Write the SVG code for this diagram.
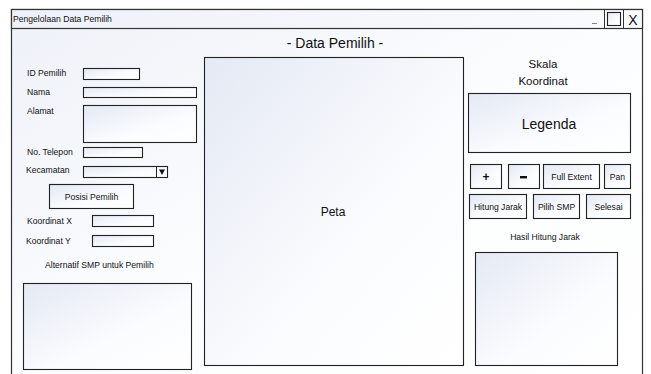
<svg xmlns="http://www.w3.org/2000/svg" width="651" height="374" viewBox="0 0 651 374">
  <defs>
    <linearGradient id="boxFill" x1="0" y1="0" x2="1" y2="1">
      <stop offset="0" stop-color="#e4e9f4"/>
      <stop offset="0.6" stop-color="#fbfcfe"/>
      <stop offset="1" stop-color="#ffffff"/>
    </linearGradient>
    <linearGradient id="winFill" x1="0" y1="0" x2="1" y2="1">
      <stop offset="0" stop-color="#eef1f8"/>
      <stop offset="0.5" stop-color="#fcfdfe"/>
      <stop offset="1" stop-color="#ffffff"/>
    </linearGradient>
    <linearGradient id="barFill" x1="0" y1="0" x2="1" y2="0">
      <stop offset="0" stop-color="#eef1f8"/>
      <stop offset="1" stop-color="#fafbfd"/>
    </linearGradient>
  </defs>
  <style>
    .frame { fill: url(#winFill); stroke: #333; stroke-width: 1.2; }
    .bar { fill: url(#barFill); stroke: #333; stroke-width: 1.2; }
    .box { fill: url(#boxFill); stroke: #222; stroke-width: 1.1; }
    .btn { fill: url(#boxFill); stroke: #222; stroke-width: 1.1; }
    .lbl { font-family: "Liberation Sans", Arial, sans-serif; font-size: 8.6px; fill: #111; }
    .ctr { text-anchor: middle; }
    .big { font-family: "Liberation Sans", Arial, sans-serif; fill: #111; text-anchor: middle; }
  </style>

  <!-- window frame -->
  <g id="window">
    <rect class="frame" x="11.5" y="9.5" width="631" height="380"/>
    <rect class="bar" x="11.5" y="9.5" width="631" height="19"/>
    <text class="lbl" x="13" y="21.5" font-size="8.6">Pengelolaan Data Pemilih</text>
    <line x1="592" y1="23.5" x2="597" y2="23.5" stroke="#666" stroke-width="0.8"/>
    <line x1="604.5" y1="9.5" x2="604.5" y2="28.5" stroke="#333" stroke-width="1"/>
    <rect x="607.5" y="12.5" width="13" height="13" fill="url(#boxFill)" stroke="#222" stroke-width="1.1"/>
    <line x1="623.5" y1="9.5" x2="623.5" y2="28.5" stroke="#333" stroke-width="1"/>
    <text class="big" x="633" y="24.5" font-size="14">X</text>
  </g>

  <g id="heading">
    <text class="big" x="335" y="48" font-size="14">- Data Pemilih -</text>
  </g>

  <!-- form fields -->
  <g id="id-pemilih">
    <text class="lbl" x="27" y="76">ID Pemilih</text>
    <rect class="box" x="83.5" y="68.5" width="56" height="11"/>
  </g>
  <g id="nama">
    <text class="lbl" x="27" y="95">Nama</text>
    <rect class="box" x="83.5" y="87.5" width="113" height="10"/>
  </g>
  <g id="alamat">
    <text class="lbl" x="27" y="114">Alamat</text>
    <rect class="box" x="83.5" y="105.5" width="113" height="37"/>
  </g>
  <g id="telepon">
    <text class="lbl" x="27" y="155">No. Telepon</text>
    <rect class="box" x="83.5" y="147.5" width="59" height="10"/>
  </g>
  <g id="kecamatan">
    <text class="lbl" x="26" y="173">Kecamatan</text>
    <rect class="box" x="83.5" y="166.5" width="84" height="11"/>
    <line x1="156.5" y1="166.5" x2="156.5" y2="177.5" stroke="#222" stroke-width="1"/>
    <path d="M159 169.5 L165 169.5 L162 175 Z" fill="#111"/>
  </g>
  <g id="btn-posisi">
    <rect class="btn" x="49.5" y="184.5" width="84" height="24"/>
    <text class="lbl ctr" x="91.5" y="199.5" font-size="9">Posisi Pemilih</text>
  </g>
  <g id="koordinat-x">
    <text class="lbl" x="27" y="224">Koordinat X</text>
    <rect class="box" x="92.5" y="215.5" width="61" height="11"/>
  </g>
  <g id="koordinat-y">
    <text class="lbl" x="26" y="244">Koordinat Y</text>
    <rect class="box" x="92.5" y="235.5" width="61" height="11"/>
  </g>
  <g id="alternatif">
    <text class="lbl" x="45" y="268" font-size="8">Alternatif SMP untuk Pemilih</text>
    <rect class="box" x="23.5" y="283.5" width="168" height="86"/>
  </g>

  <!-- map -->
  <g id="peta">
    <rect class="box" x="204.5" y="57.5" width="259" height="308"/>
    <text class="big" x="333" y="216" font-size="12">Peta</text>
  </g>

  <!-- right panel -->
  <g id="skala">
    <text class="big" x="543" y="68" font-size="11.5">Skala</text>
    <text class="big" x="543" y="85" font-size="11.5">Koordinat</text>
  </g>
  <g id="legenda">
    <rect class="box" x="468.5" y="93.5" width="162" height="59"/>
    <text class="big" x="549" y="128.5" font-size="14">Legenda</text>
  </g>
  <g id="btn-zoom-in">
    <rect class="btn" x="470.5" y="164.5" width="31" height="24"/>
    <text class="big" x="486" y="180.5" font-size="12" font-weight="bold">+</text>
  </g>
  <g id="btn-zoom-out">
    <rect class="btn" x="508.5" y="164.5" width="31" height="24"/>
    <rect x="520" y="176" width="7" height="2.4" fill="#111"/>
  </g>
  <g id="btn-full-extent">
    <rect class="btn" x="543.5" y="164.5" width="56" height="24"/>
    <text class="lbl ctr" x="571.5" y="179.5" font-size="9.8">Full Extent</text>
  </g>
  <g id="btn-pan">
    <rect class="btn" x="604.5" y="164.5" width="26" height="24"/>
    <text class="lbl ctr" x="617.5" y="179.5" font-size="9.8">Pan</text>
  </g>
  <g id="btn-hitung">
    <rect class="btn" x="469.5" y="194.5" width="57" height="24"/>
    <text class="lbl ctr" x="498" y="209.5" font-size="8.6">Hitung Jarak</text>
  </g>
  <g id="btn-pilih">
    <rect class="btn" x="533.5" y="194.5" width="46" height="24"/>
    <text class="lbl ctr" x="556.5" y="209.5" font-size="8.6">Pilih SMP</text>
  </g>
  <g id="btn-selesai">
    <rect class="btn" x="586.5" y="194.5" width="44" height="24"/>
    <text class="lbl ctr" x="608.5" y="209.5" font-size="8.8">Selesai</text>
  </g>
  <g id="hasil">
    <text class="lbl ctr" x="545" y="240" font-size="9.8">Hasil Hitung Jarak</text>
    <rect class="box" x="475.5" y="252.5" width="142" height="113"/>
  </g>
</svg>
